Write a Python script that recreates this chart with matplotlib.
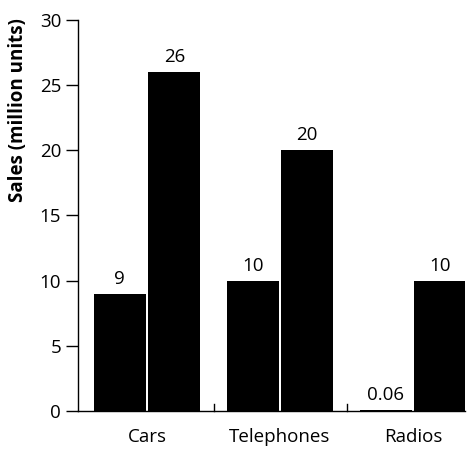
import numpy as np
import matplotlib
matplotlib.use("Agg")
import matplotlib.pyplot as plt

categories = ["Cars", "Telephones", "Radios"]
series_a = [9, 10, 0.06]
series_b = [26, 20, 10]
labels_a = ["9", "10", "0.06"]
labels_b = ["26", "20", "10"]

plt.rcParams["font.family"] = ["Open Sans", "DejaVu Sans"]
fs = 13.5

fig = plt.figure(figsize=(4.72, 4.51), dpi=100)
ax = fig.add_axes([0.165, 0.089, 0.82, 0.867])

x = np.arange(len(categories))
w = 0.39
off = 0.205
bars_a = ax.bar(x - off, series_a, w, color="black")
bars_b = ax.bar(x + off, series_b, w, color="black")

for b, t in zip(bars_a, labels_a):
    ax.text(b.get_x() + b.get_width() / 2, b.get_height() + 0.45, t,
            ha="center", va="bottom", fontsize=fs)
for b, t in zip(bars_b, labels_b):
    ax.text(b.get_x() + b.get_width() / 2, b.get_height() + 0.45, t,
            ha="center", va="bottom", fontsize=fs)

ax.set_xlim(-0.52, 2.39)
ax.set_ylim(0, 30)
ax.set_yticks(range(0, 31, 5))
ax.set_xticks(x)
ax.set_xticklabels(categories)
ax.tick_params(axis="x", length=0, pad=12, labelsize=fs)
ax.tick_params(axis="y", length=9, width=1, labelsize=fs, pad=3)

# small dividers between groups
for d in [0.5, 1.5]:
    ax.plot([d, d], [0, 0.55], color="black", lw=1, clip_on=False)

for s in ["top", "right"]:
    ax.spines[s].set_visible(False)
ax.spines["left"].set_linewidth(1)
ax.spines["bottom"].set_linewidth(1)

ax.set_ylabel("Sales (million units)", fontsize=fs, fontweight="bold")
ax.yaxis.set_label_coords(-0.128, 0.77)

fig.savefig("out.png", dpi=100, facecolor="white")
